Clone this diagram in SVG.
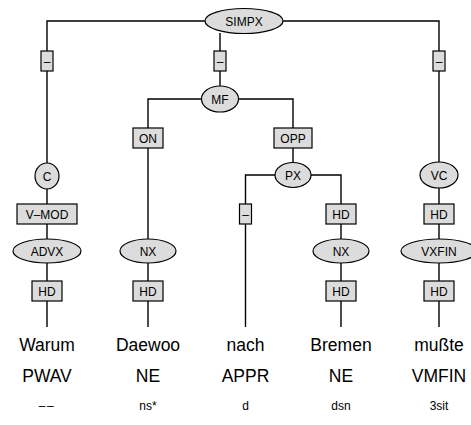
<svg xmlns="http://www.w3.org/2000/svg" width="471" height="425" viewBox="0 0 471 425">
<style>
.e,.b{fill:#dcdcdc;stroke:#000;stroke-width:1.2}
.l{fill:none;stroke:#000;stroke-width:1.4}
.t{font-family:"Liberation Sans",Arial,sans-serif;font-size:12px;text-anchor:middle;fill:#000}
.w{font-family:"Liberation Sans",Arial,sans-serif;font-size:17.5px;text-anchor:middle;fill:#000}
.s{font-family:"Liberation Sans",Arial,sans-serif;font-size:12px;text-anchor:middle;fill:#000}
</style>
<rect width="471" height="425" fill="#fff"/>
<g id="connectors" class="l">
<path d="M205,21H47V327"/>
<path d="M283,21H439V327"/>
<path d="M220,33V86"/>
<path d="M201.5,99H148V327"/>
<path d="M238.5,99H293V163"/>
<path d="M275,175H245.5V327"/>
<path d="M311,175H341V327"/>
</g>
<g id="SIMPX"><ellipse class="e" cx="244" cy="21" rx="39" ry="12.5"/><text class="t" x="244" y="25.5">SIMPX</text></g>
<g id="e1"><rect class="b" x="41" y="51" width="12" height="20"/><text class="t" x="47" y="65.5">–</text></g>
<g id="e2"><rect class="b" x="214" y="51" width="12" height="20"/><text class="t" x="220" y="65.5">–</text></g>
<g id="e3"><rect class="b" x="433" y="51" width="12" height="20"/><text class="t" x="439" y="65.5">–</text></g>
<g id="MF"><ellipse class="e" cx="220" cy="99" rx="18.5" ry="13"/><text class="t" x="220" y="103.5">MF</text></g>
<g id="ON"><rect class="b" x="133" y="128" width="30" height="20"/><text class="t" x="148" y="142.5">ON</text></g>
<g id="OPP"><rect class="b" x="274" y="128" width="38" height="20"/><text class="t" x="293" y="142.5">OPP</text></g>
<g id="C"><ellipse class="e" cx="47" cy="176" rx="12" ry="13"/><text class="t" x="47" y="180.5">C</text></g>
<g id="PX"><ellipse class="e" cx="293" cy="175" rx="18" ry="12.5"/><text class="t" x="293" y="179.5">PX</text></g>
<g id="VC"><ellipse class="e" cx="439" cy="175" rx="19" ry="13"/><text class="t" x="439" y="179.5">VC</text></g>
<g id="VMOD"><rect class="b" x="17" y="204" width="60" height="20"/><text class="t" x="47" y="218.5">V–MOD</text></g>
<g id="e4"><rect class="b" x="239.5" y="204" width="12" height="20"/><text class="t" x="245.5" y="218.5">–</text></g>
<g id="HD1"><rect class="b" x="326" y="204" width="30" height="20"/><text class="t" x="341" y="218.5">HD</text></g>
<g id="HD2"><rect class="b" x="424" y="204" width="30" height="20"/><text class="t" x="439" y="218.5">HD</text></g>
<g id="ADVX"><ellipse class="e" cx="47" cy="251" rx="34" ry="12"/><text class="t" x="47" y="255.5">ADVX</text></g>
<g id="NX1"><ellipse class="e" cx="148" cy="251" rx="28" ry="12"/><text class="t" x="148" y="255.5">NX</text></g>
<g id="NX2"><ellipse class="e" cx="341" cy="251" rx="28" ry="12"/><text class="t" x="341" y="255.5">NX</text></g>
<g id="VXFIN"><ellipse class="e" cx="439" cy="251" rx="38" ry="12"/><text class="t" x="439" y="255.5">VXFIN</text></g>
<g id="HD3"><rect class="b" x="32" y="281" width="30" height="20"/><text class="t" x="47" y="295.5">HD</text></g>
<g id="HD4"><rect class="b" x="133" y="281" width="30" height="20"/><text class="t" x="148" y="295.5">HD</text></g>
<g id="HD5"><rect class="b" x="326" y="281" width="30" height="20"/><text class="t" x="341" y="295.5">HD</text></g>
<g id="HD6"><rect class="b" x="424" y="281" width="30" height="20"/><text class="t" x="439" y="295.5">HD</text></g>
<g id="w1"><text class="w" x="47" y="351">Warum</text><text class="w" x="47" y="382">PWAV</text><text class="s" x="47" y="410" letter-spacing="1.5">––</text></g>
<g id="w2"><text class="w" x="148" y="351">Daewoo</text><text class="w" x="148" y="382">NE</text><text class="s" x="148" y="410">ns*</text></g>
<g id="w3"><text class="w" x="245.5" y="351">nach</text><text class="w" x="245.5" y="382">APPR</text><text class="s" x="245.5" y="410">d</text></g>
<g id="w4"><text class="w" x="341" y="351">Bremen</text><text class="w" x="341" y="382">NE</text><text class="s" x="341" y="410">dsn</text></g>
<g id="w5"><text class="w" x="439" y="351">mußte</text><text class="w" x="439" y="382">VMFIN</text><text class="s" x="439" y="410">3sit</text></g>
</svg>
